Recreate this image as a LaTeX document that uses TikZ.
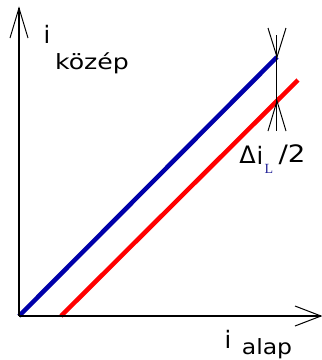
\documentclass[tikz,border=0pt]{standalone}
\usepackage{fontspec}
\setmainfont{DejaVu Sans}
\newfontfamily\serifL{Liberation Serif}
\definecolor{myblue}{RGB}{0,0,170}
\definecolor{myred}{RGB}{255,0,0}
\definecolor{lblue}{RGB}{32,32,150}
\tikzset{
  axisline/.style={line width=1.3pt, black},
  barb/.style={line width=1pt, black},
  curveb/.style={line width=4.5pt, myblue},
  curver/.style={line width=4.5pt, myred},
  lbl/.style={inner sep=0pt, font=\fontsize{21}{21}\selectfont},
  big/.style={inner sep=0pt, font=\fontsize{24}{24}\selectfont},
}
\begin{document}
\begin{tikzpicture}[x=1pt,y=-1pt]
\useasboundingbox (0,0) rectangle (322,360);
\coordinate (O) at (19,316);
\coordinate (Ytop) at (19,8);
\coordinate (Xend) at (321,316);
\coordinate (yb1) at (10,38);
\coordinate (yb2) at (28,38);
\coordinate (xb1) at (295,306);
\coordinate (xb2) at (295,326);
\coordinate (B0) at (19,316);
\coordinate (B1) at (277,57);
\coordinate (R0) at (61,316);
\coordinate (R1) at (298,80);
\coordinate (Vt) at (277,35);
\coordinate (Vb) at (277,131);
\coordinate (Tt1) at (268,28);
\coordinate (Tt2) at (286,28);
\coordinate (Tip1) at (277,57);
\coordinate (Tip2) at (277,101);
\coordinate (Bt1) at (268,131);
\coordinate (Bt2) at (286,131);
% curves
\draw[curveb] (B0) -- (B1);
\draw[curver] (R0) -- (R1);
% axes
\draw[axisline] (O) -- (Ytop);
\draw[axisline] (O) -- (Xend);
\draw[barb] (yb1) -- (Ytop) -- (yb2);
\draw[barb] (xb1) -- (Xend) -- (xb2);
% delta marker
\draw[barb] (Vt) -- (Vb);
\draw[barb] (Tt1) -- (Tip1) -- (Tt2);
\draw[barb] (Bt1) -- (Tip2) -- (Bt2);
% labels
\node[big] (iy) at (47,34) {i};
\node[lbl, xscale=1.2] (kozep) at (92,63) {közép};
\node[big] (delta) at (247.5,155) {Δ};
\node[big] (di) at (260,155) {i};
\node[inner sep=0pt, text=lblue, font=\serifL\fontsize{14}{14}\selectfont] (Lsub) at (269,169) {L};
\node[big, xscale=1.15] (half) at (292,155) {/2};
\node[big] (ix) at (228,339) {i};
\node[lbl, xscale=1.12] (alap) at (267,349) {alap};
\end{tikzpicture}
\end{document}
